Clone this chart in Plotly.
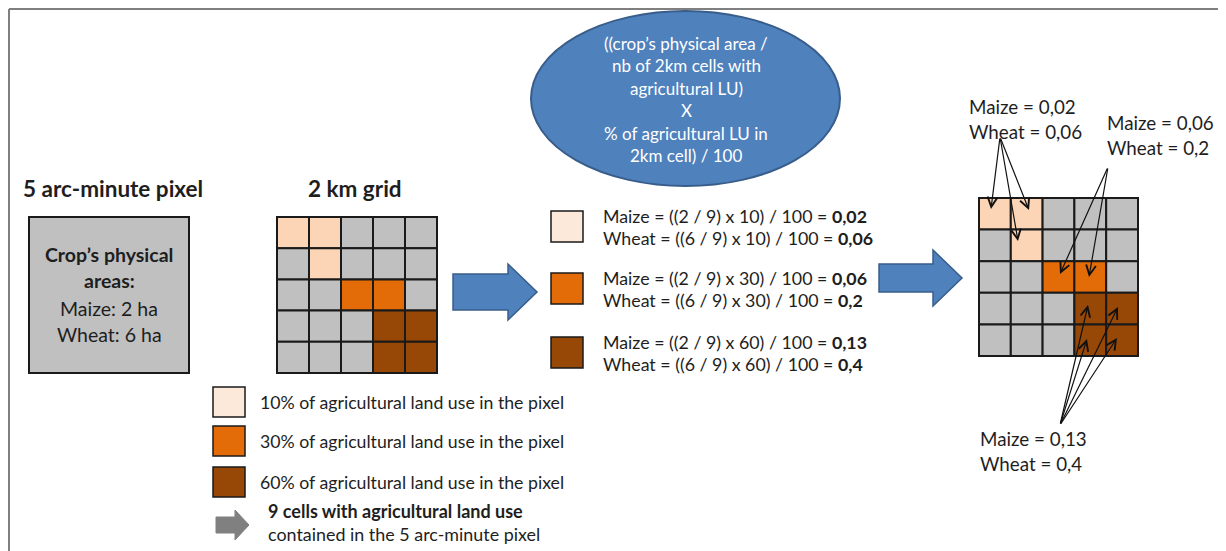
import plotly.graph_objects as go

W, H = 1226, 551
OFF = 8  # default page body margin

# ---------------- data ----------------
crop_names = ["Maize", "Wheat"]
crop_areas_ha = [2, 6]
n_ag_cells = 9
lu_percent = [10, 30, 60]
maize_values = ["0,02", "0,06", "0,13"]
wheat_values = ["0,06", "0,2", "0,4"]
# 0 = no agricultural LU, 1 = 10 %, 2 = 30 %, 3 = 60 %
grid_pattern = [
    [1, 1, 0, 0, 0],
    [0, 1, 0, 0, 0],
    [0, 0, 2, 2, 0],
    [0, 0, 0, 3, 3],
    [0, 0, 0, 3, 3],
]
ellipse_lines = [
    "((crop\u2019s physical area /",
    "nb of 2km cells with",
    "agricultural LU)",
    "X",
    "% of agricultural LU in",
    "2km cell) / 100",
]

# ---------------- styles ----------------
FONT = "Lato"
TXT = "#1e1e1e"
GREY = "#C0C0C0"
CELL_COLORS = [GREY, "#FBD5B5", "#E36C09", "#974706"]
LEGEND_COLORS = ["#FDE9D9", "#E36C09", "#974706"]
BLUE = "#4F81BD"
BLUE_LINE = "#385D8A"

fig = go.Figure()
shapes = []
annos = []


def text(x, y, s, size=16, bold=False, color=TXT, anchor="center"):
    if bold:
        s = "<b>" + s + "</b>"
    annos.append(dict(x=x, y=y, text=s, showarrow=False, xanchor=anchor,
                      yanchor="middle", font=dict(family=FONT, size=size, color=color)))


def rect(x0, y0, x1, y1, fill, line="#1a1a1a", w=2):
    shapes.append(dict(type="rect", x0=x0, y0=y0, x1=x1, y1=y1, fillcolor=fill,
                       line=dict(color=line, width=w), layer="above"))


def block_arrow(x0, xh, x1, s0, s1, h0, h1, fill, line, w):
    ym = (h0 + h1) / 2
    p = (f"M{x0},{s0} L{xh},{s0} L{xh},{h0} L{x1},{ym} L{xh},{h1} "
         f"L{xh},{s1} L{x0},{s1} Z")
    shapes.append(dict(type="path", path=p, fillcolor=fill,
                       line=dict(color=line, width=w), layer="above"))


def grid(gx, gy, cw, ch):
    for r, row in enumerate(grid_pattern):
        for c, v in enumerate(row):
            rect(gx + c * cw, gy + r * ch, gx + (c + 1) * cw, gy + (r + 1) * ch,
                 CELL_COLORS[v])


# frame
shapes.append(dict(type="line", x0=9, y0=9, x1=W + OFF, y1=9, line=dict(color="#7f7f7f", width=2)))
shapes.append(dict(type="line", x0=9, y0=9, x1=9, y1=H + OFF, line=dict(color="#7f7f7f", width=2)))

# ---- 5 arc-minute pixel ----
text(113, 188, "5 arc-minute pixel", size=22.5, bold=True)
rect(29, 217, 189, 373, GREY)
text(109, 254, "Crop\u2019s physical", size=19.5, bold=True)
text(109, 280, "areas:", size=19.5, bold=True)
text(109, 308, f"{crop_names[0]}: {crop_areas_ha[0]} ha", size=19.5)
text(109, 334, f"{crop_names[1]}: {crop_areas_ha[1]} ha", size=19.5)

# ---- 2 km grid ----
text(355, 188, "2 km grid", size=22.5, bold=True)
grid(277, 217, 32, 31.2)

# ---- legend ----
leg_y = [387, 426, 467]
for i, p in enumerate(lu_percent):
    rect(213, leg_y[i], 245, leg_y[i] + 30, LEGEND_COLORS[i], w=1.5)
    text(258, leg_y[i] + 15, f"{p}% of agricultural land use in the pixel", size=17.7, anchor="left")
block_arrow(216, 235, 249, 517, 533, 510, 540, "#808080", "#808080", 1)
text(266, 511, f"{n_ag_cells} cells with agricultural land use", size=18, bold=True, anchor="left")
text(266, 534, "contained in the 5 arc-minute pixel", size=17.9, anchor="left")

# ---- blue arrows ----
block_arrow(453, 508, 537, 274, 310, 264, 320, BLUE, BLUE_LINE, 1.5)
block_arrow(879, 933, 962, 264, 292, 250, 306, BLUE, BLUE_LINE, 1.5)

# ---- ellipse ----
shapes.append(dict(type="circle", x0=531, y0=11, x1=840, y1=186, fillcolor=BLUE,
                   line=dict(color=BLUE_LINE, width=2), layer="above"))
for i, s in enumerate(ellipse_lines):
    text(686, 43 + i * 22.5, s, size=17, color="white")

# ---- formulas ----
sq_y = [211, 273, 337]
for i, p in enumerate(lu_percent):
    rect(551, sq_y[i], 583, sq_y[i] + 31, LEGEND_COLORS[i], w=1.5)
    yc = sq_y[i] + 15.5
    text(601, yc - 11, f"{crop_names[0]} = (({crop_areas_ha[0]} / {n_ag_cells}) x {p}) / 100 = "
         f"<b>{maize_values[i]}</b>", size=17.8, anchor="left")
    text(601, yc + 11, f"{crop_names[1]} = (({crop_areas_ha[1]} / {n_ag_cells}) x {p}) / 100 = "
         f"<b>{wheat_values[i]}</b>", size=17.8, anchor="left")

# ---- result grid ----
grid(979, 198, 31.8, 31.6)

text(967, 106, f"{crop_names[0]} = {maize_values[0]}", size=18.8, anchor="left")
text(967, 131, f"{crop_names[1]} = {wheat_values[0]}", size=18.8, anchor="left")
text(1105, 122, f"{crop_names[0]} = {maize_values[1]}", size=18.8, anchor="left")
text(1105, 147, f"{crop_names[1]} = {wheat_values[1]}", size=18.8, anchor="left")
text(978, 438, f"{crop_names[0]} = {maize_values[2]}", size=18.8, anchor="left")
text(978, 463, f"{crop_names[1]} = {wheat_values[2]}", size=18.8, anchor="left")

pointer_groups = [
    ((1000, 137), [(991, 209), (1029, 210), (1018, 241)]),
    ((1108, 167), [(1060, 274), (1089, 277)]),
    ((1060, 425), [(1088, 305), (1118, 307), (1087, 339), (1117, 338)]),
]
for (tx, ty), heads in pointer_groups:
    for hx, hy in heads:
        annos.append(dict(x=hx, y=hy, ax=tx, ay=ty, axref="x", ayref="y", xref="x", yref="y",
                          text="", showarrow=True, arrowhead=5, arrowsize=1.6,
                          arrowwidth=1.2, arrowcolor="#111"))

fig.update_layout(
    width=W, height=H, margin=dict(l=0, r=0, t=0, b=0),
    paper_bgcolor="white", plot_bgcolor="white",
    xaxis=dict(range=[OFF, W + OFF], visible=False, fixedrange=True),
    yaxis=dict(range=[H + OFF, OFF], visible=False, fixedrange=True),
    shapes=shapes, annotations=annos, showlegend=False,
)
fig.write_html("out.html")
